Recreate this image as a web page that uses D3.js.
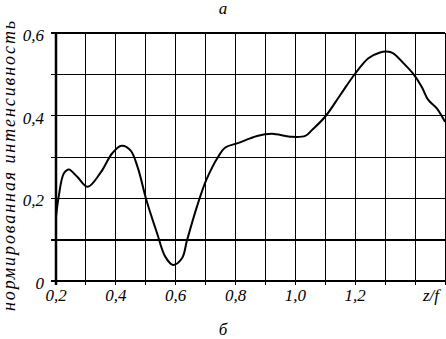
<!DOCTYPE html>
<html>
<head>
<meta charset="utf-8">
<script src="https://cdn.jsdelivr.net/npm/d3@7"></script>
<style>
  body { margin: 0; background: #fff; }
</style>
</head>
<body>
<div id="chart"></div>
<script>
// z/f positions and normalised intensity
const zf = [0.200, 0.209, 0.226, 0.243, 0.271, 0.306, 0.349, 0.388, 0.419, 0.449,
  0.473, 0.502, 0.538, 0.565, 0.591, 0.621, 0.638, 0.671, 0.702, 0.743,
  0.766, 0.805, 0.849, 0.872, 0.922, 0.983, 1.033, 1.055, 1.100, 1.150,
  1.200, 1.244, 1.283, 1.305, 1.327, 1.361, 1.394, 1.422, 1.444, 1.472, 1.500];
const intensity = [0.155, 0.204, 0.260, 0.270, 0.252, 0.228, 0.262, 0.309, 0.327, 0.316,
  0.275, 0.196, 0.115, 0.059, 0.039, 0.055, 0.099, 0.180, 0.244, 0.302,
  0.323, 0.333, 0.345, 0.351, 0.356, 0.349, 0.351, 0.365, 0.398, 0.450,
  0.502, 0.539, 0.553, 0.555, 0.551, 0.527, 0.501, 0.470, 0.438, 0.418, 0.385];

const xGrid = d3.range(0.2, 1.5001, 0.1);
const yGrid = [0, 0.1, 0.2, 0.3, 0.4, 0.5, 0.6];
const xTickLabels = [0.2, 0.4, 0.6, 0.8, 1.0, 1.2];
const yTickLabels = [0, 0.2, 0.4, 0.6];
const thresholdLevel = 0.1;

const width = 446, height = 339;
const margin = { top: 33, right: 1, bottom: 58, left: 56 };
const serif = "'Liberation Serif', 'Times New Roman', 'DejaVu Serif', serif";

const svg = d3.select("#chart").append("svg")
  .attr("width", width).attr("height", height)
  .attr("viewBox", [0, 0, width, height])
  .style("font-family", serif)
  .style("font-style", "italic");

const x = d3.scaleLinear().domain([0.2, 1.5]).range([margin.left, width - margin.right]);
const y = d3.scaleLinear().domain([0, 0.6]).range([height - margin.bottom, margin.top]);

const fmt = v => d3.format(".1f")(v).replace(".", ",");

// grid
svg.append("g").selectAll("line").data(xGrid).join("line")
  .attr("x1", d => x(d)).attr("x2", d => x(d))
  .attr("y1", y(0.6)).attr("y2", y(0) + 4)
  .attr("stroke", "#000").attr("stroke-width", 1)
  .attr("shape-rendering", "crispEdges");

svg.append("g").selectAll("line").data(yGrid).join("line")
  .attr("x1", x(0.2) - 5).attr("x2", x(1.5))
  .attr("y1", d => y(d)).attr("y2", d => y(d))
  .attr("stroke", "#000")
  .attr("stroke-width", d => (d === 0 || d === 0.6 || d === thresholdLevel) ? 2 : 1)
  .attr("shape-rendering", "crispEdges");

// left border
svg.append("line")
  .attr("x1", x(0.2)).attr("x2", x(0.2))
  .attr("y1", y(0.6) - 1).attr("y2", y(0) + 4)
  .attr("stroke", "#000").attr("stroke-width", 2.5);

// curve
const line = d3.line()
  .x(d => x(d[0])).y(d => y(d[1]))
  .curve(d3.curveCatmullRom.alpha(0.5));

svg.append("path")
  .datum(d3.zip(zf, intensity))
  .attr("d", line)
  .attr("fill", "none")
  .attr("stroke", "#000")
  .attr("stroke-width", 2);

// tick labels
svg.append("g").selectAll("text").data(xTickLabels).join("text")
  .attr("x", d => x(d)).attr("y", height - margin.bottom + 20)
  .attr("text-anchor", "middle")
  .attr("font-size", 17)
  .text(fmt);

svg.append("text")
  .attr("x", x(1.5) - 6).attr("y", height - margin.bottom + 20)
  .attr("text-anchor", "end")
  .attr("font-size", 17)
  .text("z/f");

svg.append("g").selectAll("text").data(yTickLabels).join("text")
  .attr("x", margin.left - 12).attr("y", d => y(d) + 8)
  .attr("text-anchor", "end")
  .attr("font-size", 17)
  .text(d => d === 0 ? "0" : fmt(d));

// axis title
svg.append("text")
  .attr("transform", `translate(15,${166}) rotate(-90)`)
  .attr("text-anchor", "middle")
  .attr("textLength", 290)
  .attr("lengthAdjust", "spacing")
  .attr("font-size", 18)
  .text("нормированная интенсивность");

// panel letters
svg.append("text")
  .attr("x", 223).attr("y", 14)
  .attr("text-anchor", "middle")
  .attr("font-size", 17)
  .text("а");

svg.append("text")
  .attr("x", 223).attr("y", 335)
  .attr("text-anchor", "middle")
  .attr("font-size", 17)
  .text("б");
</script>
</body>
</html>
